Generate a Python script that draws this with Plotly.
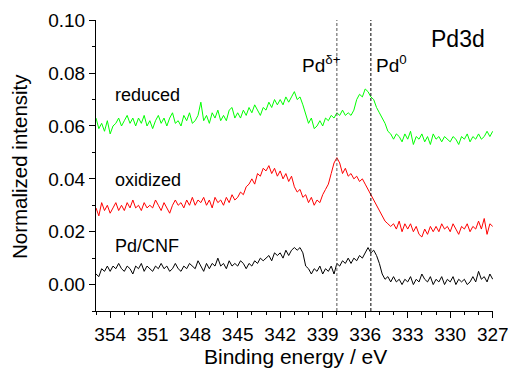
import plotly.graph_objects as go

# Binding energy grid (eV), 0.2 eV step from 355.0 down to 327.0
energy = [round(355.0 - 0.2 * i, 1) for i in range(141)]

reduced = [
    0.063, 0.059, 0.061, 0.058, 0.062,
    0.057, 0.060, 0.061, 0.063, 0.060,
    0.062, 0.064, 0.061, 0.063, 0.060,
    0.063, 0.061, 0.064, 0.060, 0.062,
    0.059, 0.062, 0.064, 0.061, 0.063,
    0.060, 0.063, 0.065, 0.061, 0.062,
    0.060, 0.064, 0.062, 0.065, 0.061,
    0.062, 0.064, 0.069, 0.062, 0.064,
    0.061, 0.065, 0.063, 0.066, 0.062,
    0.064, 0.062, 0.066, 0.067, 0.063,
    0.065, 0.063, 0.066, 0.064, 0.067,
    0.065, 0.068, 0.066, 0.064, 0.067,
    0.066, 0.069, 0.067, 0.070, 0.068,
    0.070, 0.068, 0.071, 0.069, 0.071,
    0.073, 0.070, 0.071, 0.068, 0.064,
    0.061, 0.063, 0.059, 0.060, 0.062,
    0.060, 0.063, 0.062, 0.064, 0.063,
    0.065, 0.064, 0.066, 0.064, 0.065,
    0.064, 0.066, 0.070, 0.072, 0.071,
    0.074, 0.073, 0.071, 0.070, 0.067,
    0.065, 0.063, 0.061, 0.058, 0.057,
    0.055, 0.057, 0.056, 0.054, 0.057,
    0.055, 0.058, 0.053, 0.056, 0.055,
    0.057, 0.054, 0.056, 0.053, 0.057,
    0.055, 0.056, 0.054, 0.056, 0.055,
    0.054, 0.056, 0.055, 0.053, 0.056,
    0.055, 0.057, 0.054, 0.056, 0.055,
    0.057, 0.055, 0.056, 0.058, 0.056,
    0.058,
]

oxidized = [
    0.029, 0.026, 0.031, 0.028, 0.030,
    0.027, 0.029, 0.031, 0.028, 0.030,
    0.028, 0.031, 0.029, 0.032, 0.029,
    0.030, 0.028, 0.031, 0.029, 0.030,
    0.029, 0.032, 0.030, 0.028, 0.031,
    0.029, 0.027, 0.030, 0.032, 0.030,
    0.031, 0.029, 0.032, 0.030, 0.033,
    0.030, 0.032, 0.031, 0.033, 0.030,
    0.032, 0.029, 0.033, 0.031, 0.032,
    0.030, 0.033, 0.031, 0.034, 0.032,
    0.033, 0.035, 0.034, 0.037, 0.038,
    0.040, 0.038, 0.042, 0.041, 0.044,
    0.043, 0.045, 0.042, 0.044, 0.041,
    0.043, 0.040, 0.042, 0.039, 0.041,
    0.037, 0.035, 0.036, 0.033, 0.034,
    0.031, 0.033, 0.030, 0.032, 0.031,
    0.034, 0.036, 0.038, 0.042, 0.046,
    0.048, 0.046, 0.042, 0.044, 0.041,
    0.042, 0.040, 0.041, 0.039, 0.040,
    0.038, 0.036, 0.034, 0.032, 0.030,
    0.028, 0.026, 0.024, 0.023, 0.022,
    0.023, 0.021, 0.024, 0.020, 0.023,
    0.021, 0.023, 0.020, 0.022, 0.019,
    0.018, 0.021, 0.019, 0.022, 0.020,
    0.022, 0.020, 0.023, 0.021, 0.022,
    0.020, 0.023, 0.021, 0.019, 0.022,
    0.021, 0.023, 0.020, 0.022, 0.021,
    0.024, 0.021, 0.025, 0.019, 0.023,
    0.022,
]

pd_cnf = [
    0.004, 0.003, 0.006, 0.005, 0.007,
    0.005, 0.007, 0.006, 0.008, 0.006,
    0.005, 0.007, 0.006, 0.004, 0.007,
    0.006, 0.008, 0.005, 0.007, 0.006,
    0.005, 0.007, 0.006, 0.008, 0.006,
    0.007, 0.005, 0.006, 0.008, 0.006,
    0.005, 0.007, 0.006, 0.008, 0.007,
    0.006, 0.009, 0.007, 0.005, 0.008,
    0.006, 0.008, 0.007, 0.010, 0.007,
    0.008, 0.006, 0.009, 0.007, 0.008,
    0.007, 0.009, 0.008, 0.006, 0.008,
    0.007, 0.009, 0.008, 0.010, 0.009,
    0.010, 0.011, 0.009, 0.012, 0.011,
    0.012, 0.010, 0.013, 0.011, 0.013,
    0.014, 0.013, 0.014, 0.012, 0.007,
    0.006, 0.004, 0.006, 0.005, 0.007,
    0.004, 0.006, 0.005, 0.007, 0.004,
    0.008, 0.007, 0.009, 0.008, 0.010,
    0.008, 0.010, 0.009, 0.011, 0.010,
    0.012, 0.014, 0.012, 0.013, 0.011,
    0.008, 0.004, 0.002, 0.003, 0.001,
    0.003, 0.001, 0.002, 0.000, 0.002,
    0.001, 0.003, 0.000, 0.002, 0.001,
    0.004, 0.002, 0.001, 0.003, 0.000,
    0.002, 0.001, 0.003, 0.000, 0.002,
    0.001, 0.003, 0.000, 0.002, 0.001,
    0.002, 0.000, 0.001, 0.003, 0.001,
    0.005, 0.002, 0.003, 0.001, 0.004,
    0.002,
]

series_names = ["Pd/CNF", "oxidized", "reduced"]
series_colors = ["#000000", "#ff0000", "#00ff00"]
x_ticks = [354, 351, 348, 345, 342, 339, 336, 333, 330, 327]
y_ticks = [0.00, 0.02, 0.04, 0.06, 0.08, 0.10]
ref_lines = [338.0, 335.6]
ref_colors = ["#555555", "#000000"]

FONT = "Arial, Liberation Sans, sans-serif"

fig = go.Figure()
for name, vals, col in zip(series_names, [pd_cnf, oxidized, reduced], series_colors):
    fig.add_trace(go.Scatter(x=energy, y=vals, mode="lines", name=name,
                             line=dict(color=col, width=1)))

for xv, c in zip(ref_lines, ref_colors):
    fig.add_shape(type="line", xref="x", yref="paper", x0=xv, x1=xv, y0=0, y1=1,
                  line=dict(color=c, width=1, dash="3px,2px"))

xr = [355, 326.98]
yr = [-0.01, 0.1001]

fig.update_layout(
    width=508, height=368,
    margin=dict(l=96, r=15, t=20, b=57),
    paper_bgcolor="white", plot_bgcolor="white",
    showlegend=False,
    font=dict(family=FONT, size=19, color="black"),
    xaxis=dict(range=xr, showline=True, linecolor="black", linewidth=1,
               ticks="outside", ticklen=6, tickcolor="black", tickwidth=1,
               tickmode="array", tickvals=x_ticks, ticktext=[str(v) for v in x_ticks],
               ticklabeloverflow="allow", automargin=False,
               showgrid=False, zeroline=False,
               minor=dict(tick0=355, dtick=1, ticks="outside", ticklen=3, tickcolor="black"),
               tickfont=dict(size=19)),
    yaxis=dict(range=yr, showline=True, linecolor="black", linewidth=1,
               ticks="outside", ticklen=6, tickcolor="black", tickwidth=1,
               tickmode="array", tickvals=y_ticks, ticktext=["%.2f" % v for v in y_ticks],
               ticklabeloverflow="allow", automargin=False,
               showgrid=False, zeroline=False,
               minor=dict(tick0=0, dtick=0.01, ticks="outside", ticklen=3, tickcolor="black"),
               tickfont=dict(size=19)),
    xaxis2=dict(range=xr, overlaying="x", anchor="y", side="top", showline=True,
                linecolor="black", linewidth=1, ticks="inside", ticklen=4,
                tickmode="array", tickvals=x_ticks, showticklabels=False,
                automargin=False, showgrid=False, zeroline=False,
                minor=dict(tick0=355, dtick=1, ticks="inside", ticklen=2, tickcolor="black")),
    yaxis2=dict(range=yr, overlaying="y", anchor="x", side="right", showline=True,
                linecolor="black", linewidth=1, ticks="inside", ticklen=4,
                tickmode="array", tickvals=y_ticks, showticklabels=False,
                automargin=False, showgrid=False, zeroline=False,
                minor=dict(tick0=0, dtick=0.01, ticks="inside", ticklen=2, tickcolor="black")),
)

ann = [
    dict(text="Binding energy / eV", x=0.503, y=-0.155, size=21, xanchor="center", yanchor="middle"),
    dict(text="Pd3d", x=0.985, y=0.935, size=23, xanchor="right", yanchor="middle"),
    dict(text="Pd<sup>δ+</sup>", x=0.515, y=0.85, size=19, xanchor="left", yanchor="middle"),
    dict(text="Pd<sup>0</sup>", x=0.70, y=0.85, size=19, xanchor="left", yanchor="middle"),
    dict(text="reduced", x=0.043, y=0.742, size=18, xanchor="left", yanchor="middle"),
    dict(text="oxidized", x=0.043, y=0.449, size=18, xanchor="left", yanchor="middle"),
    dict(text="Pd/CNF", x=0.043, y=0.222, size=18, xanchor="left", yanchor="middle"),
]
for a in ann:
    fig.add_annotation(text=a["text"], x=a["x"], y=a["y"], xref="paper", yref="paper",
                       xanchor=a["xanchor"], yanchor=a["yanchor"], showarrow=False,
                       font=dict(family=FONT, size=a["size"], color="black"))
fig.add_annotation(text="Normalized intensity", x=-0.193, y=0.496, xref="paper", yref="paper",
                   textangle=-90, xanchor="center", yanchor="middle", showarrow=False,
                   font=dict(family=FONT, size=20.5, color="black"))

fig.write_html("out.html")
